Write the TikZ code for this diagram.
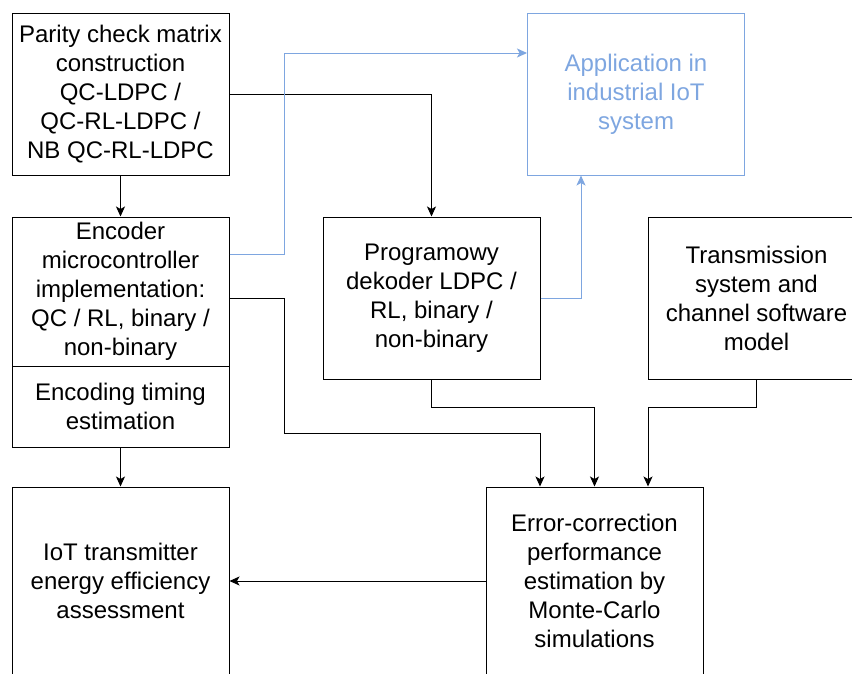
\documentclass[tikz,border=0pt]{standalone}
\usepackage{fontspec}
\setmainfont{Liberation Sans}
\usetikzlibrary{arrows.meta}
\definecolor{linkblue}{HTML}{7EA6E0}
\begin{document}
\begin{tikzpicture}[x=1pt,y=-1pt,
  box/.style={draw, line width=1pt, rectangle, inner sep=0pt, align=center,
    minimum width=217pt, font=\fontsize{24}{29}\selectfont},
  flow/.style={draw, line width=1pt, -{Stealth[length=10pt,width=9pt,inset=2.5pt]}},
  bluebox/.style={box, draw=linkblue, text=linkblue},
  blueflow/.style={flow, draw=linkblue}]
\useasboundingbox (0,0) rectangle (852,673);
\clip (0,0) rectangle (852,673);

% blocks
\node[box, minimum height=162pt] (parity) at (120.5,94)
  {Parity check matrix\\construction\\QC-LDPC /\\QC-RL-LDPC /\\NB QC-RL-LDPC};
\node[bluebox, minimum height=162pt] (app) at (636,94)
  {Application in\\industrial IoT\\system};
\node[box, minimum height=149pt] (encoder) at (120.5,291.5)
  {Encoder\\microcontroller\\implementation:\\QC / RL, binary /\\non-binary};
\node[box, minimum height=81pt] (timing) at (120.5,406.5)
  {Encoding timing\\estimation};
\node[box, minimum height=162pt] (prog) at (431.5,298)
  {Programowy\\dekoder LDPC /\\RL, binary /\\non-binary};
\node[box, minimum height=162pt] (trans) at (756.5,298)
  {Transmission\\system and\\channel software\\model};
\node[box, minimum height=188pt] (iot) at (120.5,581)
  {IoT transmitter\\energy efficiency\\assessment};
\node[box, minimum height=188pt] (err) at (594.5,581)
  {Error-correction\\performance\\estimation by\\Monte-Carlo\\simulations};

% connectors
\draw[flow] (parity.south) -- (encoder.north);
\draw[flow] (parity.east) -| (prog.north);
\draw[blueflow] ([yshift=37.5pt]encoder.east) -| (284,53) -- ([yshift=41pt]app.west);
\draw[blueflow] (prog.east) -| ([xshift=-55pt]app.south);
\draw[flow] ([yshift=-6.5pt]encoder.east) -| (284,433) -| ([xshift=-54.5pt]err.north);
\draw[flow] (prog.south) -- ++(0,28) -| (err.north);
\draw[flow] (trans.south) -- ++(0,28) -| ([xshift=53.5pt]err.north);
\draw[flow] (timing.south) -- (iot.north);
\draw[flow] (err.west) -- (iot.east);
\end{tikzpicture}
\end{document}
